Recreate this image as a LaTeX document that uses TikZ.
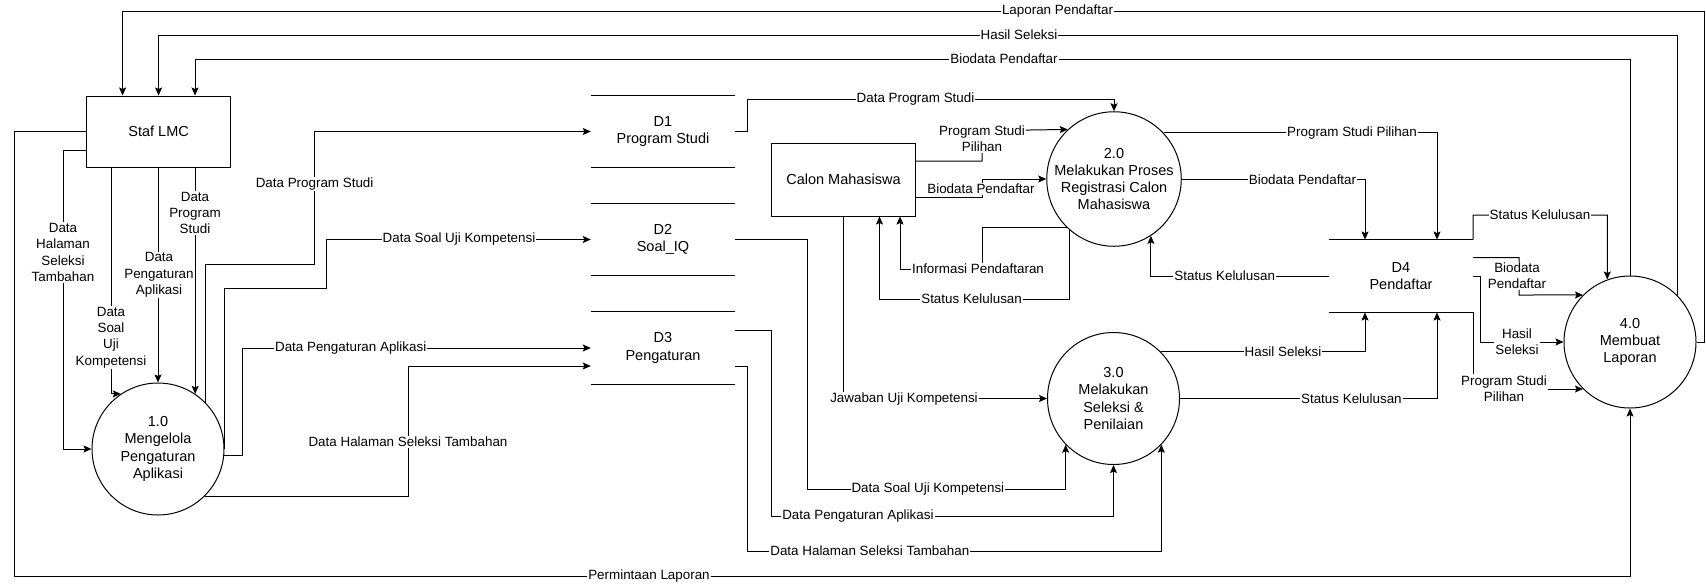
\documentclass[tikz,border=0pt]{standalone}
\usepackage{fontspec}
\setmainfont{Liberation Sans}
\usetikzlibrary{arrows.meta}

\begin{document}
\begin{tikzpicture}[x=1pt, y=-1pt,
                >={Stealth[length=8pt,width=7pt,inset=1.5pt]},
                flow/.style={->, line width=1pt}, % data flow
                proc/.style={circle, draw, line width=1pt, minimum size=132pt, inner sep=0pt, align=center, font=\fontsize{14.5}{17.3}\selectfont}, % process
                ent/.style={draw, line width=1pt, minimum width=144pt, minimum height=71pt, font=\fontsize{14.5}{17.3}\selectfont}, % external entity
                store/.style={minimum width=144pt, minimum height=72.5pt, inner sep=0pt, align=center, font=\fontsize{14.5}{17.5}\selectfont}, % data store
                lbl/.style={fill=white, inner sep=1pt, align=center, font=\fontsize{13.4}{16.3}\selectfont} % flow label
                ]
                \useasboundingbox[fill=white] (0,0) rectangle (1706,584);

                % entities and processes
                \node[ent] (staf) at (158.6,131.5) {Staf LMC};
                \node[ent, minimum height=73pt] (calon) at (843.5,179.5) {Calon Mahasiswa};
                \node[proc] (p1) at (158,449) {1.0\\Mengelola\\Pengaturan\\Aplikasi};
                \node[proc] (p2) at (1114,179) {2.0\\Melakukan Proses\\Registrasi Calon\\Mahasiswa};
                \node[proc] (p3) at (1113.5,398.5) {3.0\\Melakukan\\Seleksi \&\\Penilaian};
                \node[proc] (p4) at (1630,342) {4.0\\Membuat\\Laporan};

                % data stores
                \node[store] (d1) at (663,131.5) {D1\\Program Studi};
                \node[store] (d2) at (663,239.5) {D2\\Soal\_IQ};
                \node[store] (d3) at (663,348) {D3\\Pengaturan};
                \node[store] (d4) at (1401,276) {D4\\Pendaftar};
                \foreach \d in {d1,d2,d3,d4}
                \draw[line width=1pt] (\d.north west) -- (\d.north east) (\d.south west) -- (\d.south east);

                % staf -> 1.0
                \draw[flow] ([yshift=-18.5pt]staf.west) -| (63,449) -- (p1.west);
                \draw[flow] ([xshift=-47.6pt]staf.south) |- (p1.124);
                \draw[flow] (p1.north |- staf.south) -- (p1.north);
                \draw[flow] (p1.56 |- staf.south) -- (p1.56);
                \draw[flow] (staf.west) -| (14.5,576) -| (p4.south);

                % 4.0 -> staf
                \draw[flow] (p4.east) -- (1704,342) |- (122.6,11) -- ([xshift=-36pt]staf.north);
                \draw[flow] (p4.45) |- (158.6,35) -- (staf.north);
                \draw[flow] (p4.north) |- (195,59) -- ([xshift=36.4pt]staf.north);

                % 1.0 -> stores
                \draw[flow] (p1.44) |- (314.6,264) |- (d1.west);
                \draw[flow] (p1.east) |- (326.5,288) |- (d2.west);
                \draw[flow] (p1.-6) -- ++(18,0) |- (d3.west);
                \draw[flow] (p1.-45) -| (408,366) -- ([yshift=-18pt]d3.west);

                % stores -> 2.0 / 3.0
                \draw[flow] (d1.east) -- ++(12,0) |- (1114,99) -- (p2.north);
                \draw[flow] (d2.east) -| (807,489) -| (p3.-136);
                \draw[flow] ([yshift=18pt]d3.east) -| (771,516) -| (p3.south);
                \draw[flow] ([yshift=-18pt]d3.east) -| (747,551) -| (p3.-44);

                % calon <-> 2.0, calon -> 3.0
                \draw[flow] ([yshift=18.5pt]calon.east) -| (982,130.7) -- (p2.133);
                \draw[flow] ([yshift=-18.2pt]calon.east) -| (982,179) -- (p2.west);
                \draw[flow] (p2.-134) -| (982.5,269) -| ([xshift=56.5pt]calon.south);
                \draw[flow] (p2.-131) |- (879.5,299) -- ([xshift=36pt]calon.south);
                \draw[flow] (calon.south) |- (p3.west);

                % 2.0 / 3.0 <-> D4
                \draw[flow] (p2.43) -| ([xshift=36pt]d4.north);
                \draw[flow] (p2.east) -| ([xshift=-36pt]d4.north);
                \draw[flow] (d4.west) -| (p2.-57);
                \draw[flow] (p3.45) -| ([xshift=-36pt]d4.south);
                \draw[flow] (p3.east) -| ([xshift=36pt]d4.south);

                % D4 -> 4.0
                \draw[flow] (d4.north east) |- (1607.3,215) -- (p4.110);
                \draw[flow] ([yshift=-18pt]d4.north east) -| (1519,295) -- (p4.135);
                \draw[flow] (d4.east) -- ++(7,0) |- (p4.west);
                \draw[flow] (d4.south east) |- (p4.-135);

                % labels
                \node[lbl] (l1) at (63,252.5) {Data\\Halaman\\Seleksi\\Tambahan};
                \node[lbl] (l2) at (111,337.5) {Data\\Soal\\Uji\\Kompetensi};
                \node[lbl] (l3) at (159,275) {Data\\Pengaturan\\Aplikasi};
                \node[lbl] (l4) at (195,213) {Data\\Program\\Studi};
                \node[lbl] (l5) at (314.6,184) {Data Program Studi};
                \node[lbl] (l6) at (459,239.5) {Data Soal Uji Kompetensi};
                \node[lbl] (l7) at (350.7,348) {Data Pengaturan Aplikasi};
                \node[lbl] (l8) at (408,442) {Data Halaman Seleksi Tambahan};
                \node[lbl] (l9) at (649,576) {Permintaan Laporan};
                \node[lbl] (l10) at (1057.5,11) {Laporan Pendaftar};
                \node[lbl] (l11) at (1019,35) {Hasil Seleksi};
                \node[lbl] (l12) at (1004,59) {Biodata Pendaftar};
                \node[lbl] (l13) at (915.5,99) {Data Program Studi};
                \node[lbl] (l14) at (982,139) {Program Studi\\Pilihan};
                \node[lbl] (l15) at (981,188.7) {Biodata Pendaftar};
                \node[lbl] (l16) at (978,269) {Informasi Pendaftaran};
                \node[lbl] (l17) at (971.6,299) {Status Kelulusan};
                \node[lbl] (l18) at (904,399) {Jawaban Uji Kompetensi};
                \node[lbl] (l19) at (927.9,489) {Data Soal Uji Kompetensi};
                \node[lbl] (l20) at (857.9,516) {Data Pengaturan Aplikasi};
                \node[lbl] (l21) at (869.8,551) {Data Halaman Seleksi Tambahan};
                \node[lbl] (l22) at (1352,133) {Program Studi Pilihan};
                \node[lbl] (l23) at (1302.5,180) {Biodata Pendaftar};
                \node[lbl] (l24) at (1224.7,276) {Status Kelulusan};
                \node[lbl] (l25) at (1283,351.7) {Hasil Seleksi};
                \node[lbl] (l26) at (1351.4,399) {Status Kelulusan};
                \node[lbl] (l27) at (1540,215) {Status Kelulusan};
                \node[lbl] (l28) at (1517,276) {Biodata\\Pendaftar};
                \node[lbl] (l29) at (1517,342) {Hasil\\Seleksi};
                \node[lbl] (l30) at (1504,388.5) {Program Studi\\Pilihan};
            \end{tikzpicture}
\end{document}
